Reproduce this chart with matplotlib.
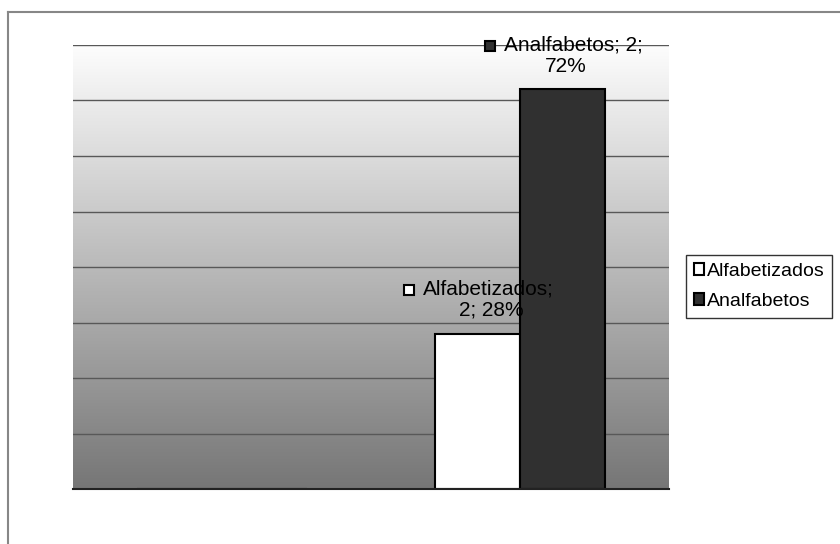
import numpy as np
import matplotlib
matplotlib.use("Agg")
import matplotlib.pyplot as plt
from matplotlib.colors import LinearSegmentedColormap
from matplotlib.lines import Line2D
from matplotlib.patches import Patch

plt.rcParams['font.family'] = ['Liberation Sans', 'DejaVu Sans']

categories = ["1", "2"]
series_names = ["Alfabetizados", "Analfabetos"]
series_values = [[0.0, 0.28], [0.0, 0.72]]
label_lines = [["Alfabetizados;", "2; 28%"], ["Analfabetos; 2;", "72%"]]
series_colors = ["#ffffff", "#303030"]

fig = plt.figure(figsize=(8.4, 5.44), dpi=100)
ax = fig.add_axes([73 / 840, 1 - 489 / 544, (669 - 73) / 840, (489 - 45) / 544])

# chart area border (runs off the right and bottom edges)
fig.add_artist(Line2D([8 / 840, 8 / 840], [0, 1 - 12 / 544], transform=fig.transFigure,
                      color="#878787", lw=1.5))
fig.add_artist(Line2D([8 / 840, 1], [1 - 12 / 544, 1 - 12 / 544], transform=fig.transFigure,
                      color="#878787", lw=1.5))

ymax = 0.8
x = np.arange(len(categories))
n = len(series_names)
width = 1 / (n + 1.5)

# gradient background of the plot area
grad = LinearSegmentedColormap.from_list("bg", ["#767676", "#fdfdfd"])
ax.imshow(np.linspace(0, 1, 256).reshape(-1, 1), cmap=grad, aspect="auto",
          extent=[-0.5, len(categories) - 0.5, 0, ymax], origin="lower", zorder=0)

for yv in np.arange(0.1, ymax + 0.01, 0.1):
    ax.axhline(yv, color="#585858", lw=1, zorder=1)

bars = []
for i, (name, vals, col) in enumerate(zip(series_names, series_values, series_colors)):
    pos = x + (i - (n - 1) / 2) * width
    ax.bar(pos, vals, width=width, color=col, edgecolor="black", lw=1.5, zorder=2)
    bars.append((pos, vals))

ax.set_xlim(-0.5, len(categories) - 0.5)
ax.set_ylim(0, ymax)
ax.set_xticks([])
ax.set_yticks([])
for s in ["left", "right", "top"]:
    ax.spines[s].set_visible(False)
ax.spines["bottom"].set_color("#222222")
ax.spines["bottom"].set_linewidth(1.5)
ax.spines["bottom"].set_zorder(3)

# data labels: two lines over the bar, legend key before line one
line2_dx = [10, 2]
fig.canvas.draw()
rend = fig.canvas.get_renderer()
for i, (pos, vals) in enumerate(bars):
    xc, yv = pos[1], vals[1]
    l1, l2 = label_lines[i]
    ax.annotate(l2, (xc, yv), xytext=(line2_dx[i], 10), textcoords="offset points",
                ha="center", va="bottom", fontsize=15, zorder=4)
    t1 = ax.annotate(l1, (xc, yv), xytext=(8, 25), textcoords="offset points",
                     ha="center", va="bottom", fontsize=15, zorder=4)
    fig.canvas.draw()
    bb = t1.get_window_extent(rend)
    mx, my = bb.x0 - 14, bb.y0 + bb.height * 0.45
    mxd, myd = ax.transData.inverted().transform((mx, my))
    ax.plot(mxd, myd, marker="s", ms=7, mfc=series_colors[i], mec="black", mew=1.5,
            zorder=5, clip_on=False)

handles = [Patch(facecolor=c, edgecolor="black", lw=1.5) for c in series_colors]
leg = fig.legend(handles, series_names, loc="lower left",
                 bbox_to_anchor=(686 / 840, 1 - 318 / 544), fontsize=14,
                 frameon=True, fancybox=False, handlelength=0.55, handleheight=0.55,
                 handletextpad=0.12, labelspacing=0.7, borderpad=0.4, borderaxespad=0)
leg.get_frame().set_edgecolor("black")
leg.get_frame().set_linewidth(1)

fig.savefig("out.png", dpi=100)
